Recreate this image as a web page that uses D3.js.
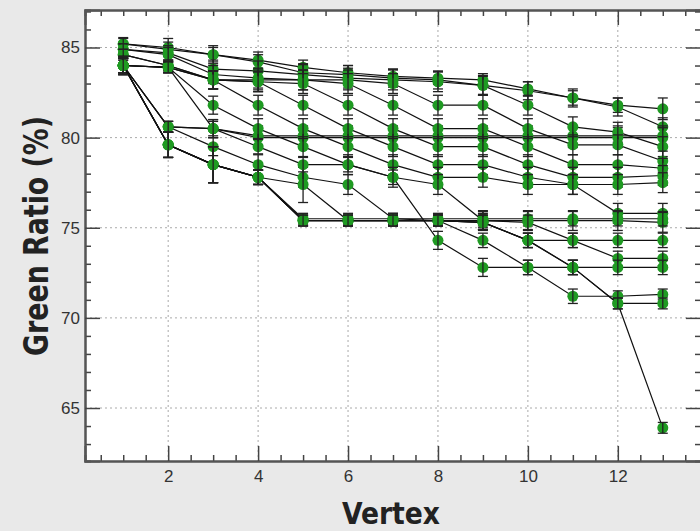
<!DOCTYPE html>
<html>
<head>
<meta charset="utf-8">
<script src="https://cdn.jsdelivr.net/npm/d3@7"></script>
<style>
  html, body { margin: 0; padding: 0; background: #e9e9e9; }
  svg { display: block; }
  .tick text { font-family: "Liberation Sans", Arial, sans-serif; font-size: 17px; fill: #333; }
  .axis-title { font-family: "Liberation Sans Narrow", "DejaVu Sans Condensed", sans-serif; font-weight: bold; fill: #222; }
</style>
</head>
<body>
<svg id="chart"></svg>
<script>
// vertices on the x axis
var vertices = [1, 2, 3, 4, 5, 6, 7, 8, 9, 10, 11, 12, 13];

// green ratio (%) per vertex, one array per curve
var greenRatio = [
  [85.2, 85.0, 84.6, 84.3, 83.9, 83.6, 83.4, 83.3, 83.2, 82.7, 82.2, 81.8, 81.6],
  [85.2, 84.9, 84.6, 84.2, 83.6, 83.5, 83.3, 83.2, 82.9, 82.6, 82.2, 81.7, 80.6],
  [84.0, 83.9, 80.5, 80.0, 80.0, 80.0, 80.0, 80.0, 80.0, 80.0, 80.0, 80.0, 80.0],
  [84.0, 80.6, 80.5, 80.1, 80.1, 80.1, 80.1, 80.1, 80.1, 80.1, 80.1, 80.1, 80.1],
  [84.9, 84.7, 83.8, 83.7, 83.5, 83.3, 83.2, 83.1, 82.9, 81.8, 80.6, 80.3, 79.5],
  [84.9, 84.6, 83.5, 83.3, 83.2, 83.2, 83.0, 81.8, 81.8, 80.5, 79.6, 79.6, 78.7],
  [84.6, 84.0, 83.2, 83.2, 83.2, 83.0, 81.8, 80.5, 80.5, 79.5, 78.5, 78.5, 78.3],
  [84.6, 84.0, 83.2, 83.1, 83.0, 81.8, 80.5, 79.5, 79.5, 78.5, 77.8, 77.8, 77.9],
  [84.0, 83.9, 83.2, 83.1, 81.8, 80.5, 79.5, 78.5, 78.5, 77.8, 77.4, 77.4, 77.5],
  [84.0, 83.9, 83.2, 81.8, 80.5, 79.5, 78.5, 77.8, 77.8, 77.4, 77.4, 75.8, 75.8],
  [84.0, 83.9, 81.8, 80.5, 79.5, 78.5, 77.8, 77.4, 75.4, 75.4, 75.4, 75.4, 75.3],
  [84.0, 80.6, 79.5, 78.5, 77.8, 77.4, 75.5, 75.5, 75.5, 75.5, 75.5, 75.5, 75.5],
  [84.0, 79.6, 78.5, 77.8, 77.4, 75.4, 75.4, 75.4, 75.4, 75.3, 74.3, 74.3, 74.3],
  [84.0, 79.6, 78.5, 77.8, 75.4, 75.4, 75.4, 75.4, 75.3, 74.3, 74.3, 73.3, 73.3],
  [84.0, 80.6, 80.5, 79.5, 78.5, 78.5, 77.8, 74.3, 72.8, 72.8, 72.8, 72.8, 72.8],
  [84.0, 79.6, 78.5, 77.8, 75.5, 75.5, 75.5, 75.4, 74.3, 72.8, 71.2, 71.2, 71.3],
  [84.0, 79.6, 78.5, 77.8, 75.4, 75.4, 75.4, 75.4, 75.3, 74.3, 72.8, 70.8, 70.8],
  [84.0, 79.6, 78.5, 77.8, 75.4, 75.4, 75.4, 75.4, 75.3, 74.3, 72.8, 70.8, 63.9]
];

// error bar half-heights, same layout as greenRatio
var greenErr = [
  [0.35, 0.5, 0.5, 0.45, 0.4, 0.4, 0.4, 0.35, 0.35, 0.4, 0.4, 0.4, 0.6],
  [0.3, 0.4, 0.4, 0.4, 0.5, 0.5, 0.5, 0.5, 0.5, 0.5, 0.5, 0.5, 0.5],
  [0.4, 0.3, 0.5, 0.55, 0.55, 0.55, 0.55, 0.55, 0.55, 0.55, 0.55, 0.55, 0.55],
  [0.4, 0.3, 0.5, 0.55, 0.55, 0.55, 0.55, 0.55, 0.55, 0.55, 0.55, 0.55, 0.55],
  [0.3, 0.4, 0.5, 0.55, 0.55, 0.55, 0.55, 0.55, 0.55, 0.55, 0.55, 0.55, 0.55],
  [0.3, 0.4, 0.5, 0.55, 0.55, 0.55, 0.55, 0.55, 0.55, 0.55, 0.55, 0.55, 0.55],
  [0.3, 0.3, 0.5, 0.55, 0.55, 0.55, 0.55, 0.55, 0.55, 0.55, 0.55, 0.55, 0.55],
  [0.3, 0.3, 0.5, 0.55, 0.55, 0.55, 0.55, 0.55, 0.55, 0.55, 0.55, 0.55, 0.55],
  [0.4, 0.3, 0.5, 0.55, 0.55, 0.55, 0.55, 0.55, 0.55, 0.55, 0.55, 0.55, 0.55],
  [0.4, 0.3, 0.5, 0.55, 0.55, 0.55, 0.55, 0.55, 0.55, 0.55, 0.55, 0.55, 0.55],
  [0.4, 0.3, 0.5, 0.55, 0.55, 0.55, 0.55, 0.55, 0.55, 0.55, 0.55, 0.55, 0.55],
  [0.4, 0.3, 0.5, 0.55, 0.55, 0.55, 0.3, 0.3, 0.4, 0.4, 0.4, 0.4, 0.4],
  [0.5, 0.7, 1.0, 0.4, 1.0, 0.3, 0.3, 0.3, 0.4, 0.4, 0.4, 0.4, 0.4],
  [0.5, 0.7, 1.0, 0.4, 0.3, 0.3, 0.3, 0.3, 0.4, 0.4, 0.4, 0.4, 0.4],
  [0.5, 0.3, 0.4, 0.4, 0.4, 0.4, 0.4, 0.5, 0.5, 0.4, 0.4, 0.4, 0.4],
  [0.5, 0.7, 1.0, 0.4, 0.3, 0.3, 0.3, 0.3, 0.4, 0.4, 0.4, 0.3, 0.3],
  [0.5, 0.7, 1.0, 0.4, 0.3, 0.3, 0.3, 0.3, 0.4, 0.4, 0.4, 0.3, 0.3],
  [0.5, 0.7, 1.0, 0.4, 0.3, 0.3, 0.3, 0.3, 0.4, 0.4, 0.4, 0.3, 0.3]
];

var xMajor = [2, 4, 6, 8, 10, 12];
var xMinor = [0.5, 1, 1.5, 2.5, 3, 3.5, 4.5, 5, 5.5, 6.5, 7, 7.5, 8.5, 9, 9.5, 10.5, 11, 11.5, 12.5, 13, 13.5];
var yMajor = [65, 70, 75, 80, 85];
var yMinor = [63, 64, 66, 67, 68, 69, 71, 72, 73, 74, 76, 77, 78, 79, 81, 82, 83, 84, 86, 87];

var width = 700, height = 531;
var margin = { top: 10, right: -1, bottom: 70, left: 85 };
var innerW = width - margin.left - margin.right;
var innerH = height - margin.top - margin.bottom;

var svg = d3.select('#chart')
  .attr('width', width)
  .attr('height', height);

svg.append('rect')
  .attr('width', width)
  .attr('height', height)
  .attr('fill', '#e9e9e9');

var g = svg.append('g')
  .attr('transform', 'translate(' + margin.left + ',' + margin.top + ')');

var x = d3.scaleLinear().domain([0.15, 13.85]).range([0, innerW]);
var y = d3.scaleLinear().domain([62.06, 87.08]).range([innerH, 0]);

g.append('rect')
  .attr('width', innerW)
  .attr('height', innerH)
  .attr('fill', '#fff');

// dotted grid
g.selectAll('.grid-x')
  .data(xMajor)
  .enter()
  .append('line')
  .attr('x1', function (d) { return x(d); })
  .attr('x2', function (d) { return x(d); })
  .attr('y1', 0)
  .attr('y2', innerH)
  .attr('stroke', '#aaa')
  .attr('stroke-dasharray', '2,3');

g.selectAll('.grid-y')
  .data(yMajor)
  .enter()
  .append('line')
  .attr('x1', 0)
  .attr('x2', innerW)
  .attr('y1', function (d) { return y(d); })
  .attr('y2', function (d) { return y(d); })
  .attr('stroke', '#aaa')
  .attr('stroke-dasharray', '2,3');

// curves
var line = d3.line()
  .x(function (d, i) { return x(vertices[i]); })
  .y(function (d) { return y(d); });

var curves = g.selectAll('.curve')
  .data(greenRatio)
  .enter()
  .append('g')
  .attr('class', 'curve');

curves.append('path')
  .attr('d', function (d) { return line(d); })
  .attr('fill', 'none')
  .attr('stroke', '#111')
  .attr('stroke-width', 1.2);

var pts = curves.selectAll('.pt')
  .data(function (d, k) {
    return d.map(function (v, i) { return { v: vertices[i], val: v, err: greenErr[k][i] }; });
  })
  .enter()
  .append('g')
  .attr('class', 'pt');

pts.append('circle')
  .attr('cx', function (d) { return x(d.v); })
  .attr('cy', function (d) { return y(d.val); })
  .attr('r', 5.5)
  .attr('fill', '#1f9a22');

pts.append('line')
  .attr('x1', function (d) { return x(d.v); })
  .attr('x2', function (d) { return x(d.v); })
  .attr('y1', function (d) { return y(d.val + d.err); })
  .attr('y2', function (d) { return y(d.val - d.err); })
  .attr('stroke', '#222')
  .attr('stroke-width', 1.3);

pts.append('line')
  .attr('x1', function (d) { return x(d.v) - 5; })
  .attr('x2', function (d) { return x(d.v) + 5; })
  .attr('y1', function (d) { return y(d.val + d.err); })
  .attr('y2', function (d) { return y(d.val + d.err); })
  .attr('stroke', '#222')
  .attr('stroke-width', 1.3);

pts.append('line')
  .attr('x1', function (d) { return x(d.v) - 5; })
  .attr('x2', function (d) { return x(d.v) + 5; })
  .attr('y1', function (d) { return y(d.val - d.err); })
  .attr('y2', function (d) { return y(d.val - d.err); })
  .attr('stroke', '#222')
  .attr('stroke-width', 1.3);

// axes, ticks pointing inward
function styleAxis(sel) {
  sel.select('.domain').attr('stroke', '#555').attr('stroke-width', 2);
  sel.selectAll('.tick line').attr('stroke', '#444').attr('stroke-width', 1.5);
}

g.append('g')
  .call(d3.axisLeft(y).tickValues(yMinor).tickSize(-6).tickFormat(''))
  .call(styleAxis);
g.append('g')
  .call(d3.axisLeft(y).tickValues(yMajor).tickSize(-15).tickPadding(5))
  .call(styleAxis);

g.append('g')
  .attr('transform', 'translate(0,' + innerH + ')')
  .call(d3.axisBottom(x).tickValues(xMinor).tickSize(-6).tickFormat(''))
  .call(styleAxis);
g.append('g')
  .attr('transform', 'translate(0,' + innerH + ')')
  .call(d3.axisBottom(x).tickValues(xMajor).tickSize(-15).tickPadding(9))
  .call(styleAxis);

g.append('g')
  .call(d3.axisTop(x).tickValues(xMinor).tickSize(-6).tickFormat(''))
  .call(styleAxis);
g.append('g')
  .call(d3.axisTop(x).tickValues(xMajor).tickSize(-15).tickFormat(''))
  .call(styleAxis);

g.append('g')
  .attr('transform', 'translate(' + innerW + ',0)')
  .call(d3.axisRight(y).tickValues(yMinor).tickSize(-6).tickFormat(''))
  .call(styleAxis);
g.append('g')
  .attr('transform', 'translate(' + innerW + ',0)')
  .call(d3.axisRight(y).tickValues(yMajor).tickSize(-15).tickFormat(''))
  .call(styleAxis);

// axis titles
svg.append('text')
  .attr('class', 'axis-title')
  .attr('transform', 'translate(48,236) rotate(-90)')
  .attr('text-anchor', 'middle')
  .attr('font-size', 34)
  .attr('textLength', 240)
  .attr('lengthAdjust', 'spacingAndGlyphs')
  .text('Green Ratio (%)');

svg.append('text')
  .attr('class', 'axis-title')
  .attr('x', 391)
  .attr('y', 524)
  .attr('text-anchor', 'middle')
  .attr('font-size', 31)
  .attr('textLength', 98)
  .attr('lengthAdjust', 'spacingAndGlyphs')
  .text('Vertex');
</script>
</body>
</html>
